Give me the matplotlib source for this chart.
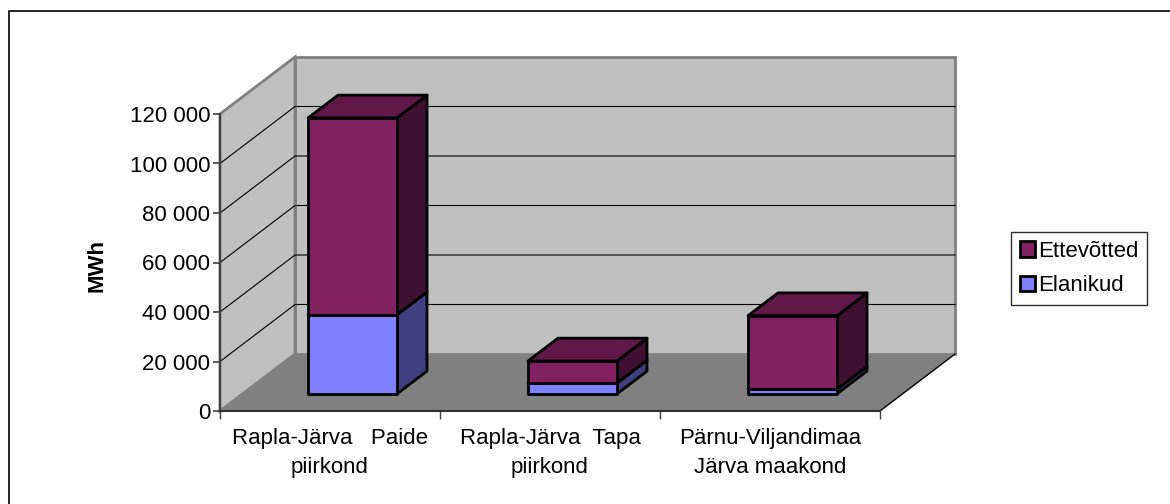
import matplotlib
matplotlib.use('Agg')
from matplotlib import pyplot as plt
from matplotlib.lines import Line2D
from matplotlib.patches import Patch

plt.rcParams['font.family'] = ['Liberation Sans', 'DejaVu Sans']

categories = ['Rapla-Järva   Paide\npiirkond', 'Rapla-Järva  Tapa\npiirkond', 'Pärnu-Viljandimaa\nJärva maakond']
elanikud = [32000, 4400, 1900]
ettevotted = [79500, 8900, 29700]
y_ticks = [0, 20000, 40000, 60000, 80000, 100000, 120000]
y_labels = ['0', '20 000', '40 000', '60 000', '80 000', '100 000', '120 000']

W, H = 1170, 504
# 3d look: depth of the box in data units
DEPTH_X = 75 / 220
DEPTH_Y = 57 / 297 * 120000
BAR_W = 89 / 220
BAR_FRONT = 0.3
BAR_DEPTH = 0.4

fig = plt.figure(figsize=(W / 100, H / 100), dpi=100, facecolor='white')
ax = fig.add_axes([220 / W, (H - 411) / H, 660 / W, 297 / H])
ax.set_xlim(0, 3)
ax.set_ylim(0, 120000)
ax.patch.set_visible(False)

# outer frame: only top and left edges are inside the picture
fig.add_artist(Line2D([8.5 / W, 8.5 / W, 1], [0, (H - 10.5) / H, (H - 10.5) / H], transform=fig.transFigure,
                      color='black', linewidth=1.2))

# walls and floor
ax.fill([DEPTH_X, 3 + DEPTH_X, 3 + DEPTH_X, DEPTH_X],
        [DEPTH_Y, DEPTH_Y, 120000 + DEPTH_Y, 120000 + DEPTH_Y],
        facecolor='#C0C0C0', edgecolor='#808080', linewidth=2, clip_on=False, zorder=1)
ax.fill([0, DEPTH_X, DEPTH_X, 0], [0, DEPTH_Y, 120000 + DEPTH_Y, 120000],
        facecolor='#C0C0C0', edgecolor='#808080', linewidth=2, clip_on=False, zorder=1)
ax.fill([0, 3, 3 + DEPTH_X, DEPTH_X], [0, 0, DEPTH_Y, DEPTH_Y],
        facecolor='#808080', edgecolor='none', clip_on=False, zorder=2)
ax.plot([3, 3 + DEPTH_X], [0, DEPTH_Y], color='black', linewidth=1, clip_on=False, zorder=2)

# gridlines on both walls
for t in y_ticks[1:-1]:
    ax.plot([0, DEPTH_X, 3 + DEPTH_X], [t, t + DEPTH_Y, t + DEPTH_Y], color='black', linewidth=0.8,
            clip_on=False, zorder=3)


def box(i, low, high, front, side, top):
    x0 = i + 0.5 - BAR_W / 2 + DEPTH_X * BAR_FRONT
    x1 = x0 + BAR_W
    base = DEPTH_Y * BAR_FRONT
    dx = DEPTH_X * BAR_DEPTH
    dy = DEPTH_Y * BAR_DEPTH
    style = dict(edgecolor='black', linewidth=2, joinstyle='round', clip_on=False, zorder=5)
    ax.fill([x1, x1 + dx, x1 + dx, x1], [base + low, base + low + dy, base + high + dy, base + high],
            facecolor=side, **style)
    ax.fill([x0, x1, x1 + dx, x0 + dx], [base + high, base + high, base + high + dy, base + high + dy],
            facecolor=top, **style)
    ax.fill([x0, x1, x1, x0], [base + low, base + low, base + high, base + high],
            facecolor=front, **style)


for i in range(len(categories)):
    box(i, 0, elanikud[i], '#8080FF', '#404080', '#606098')
    box(i, elanikud[i], elanikud[i] + ettevotted[i], '#802060', '#401030', '#601848')

# axes
for s in ['top', 'right']:
    ax.spines[s].set_visible(False)
ax.spines['left'].set_color('#404040')
ax.spines['left'].set_linewidth(1.5)
ax.spines['bottom'].set_color('#303030')
ax.spines['bottom'].set_linewidth(1.5)
ax.spines['left'].set_zorder(6)
ax.spines['bottom'].set_zorder(6)
ax.set_yticks(y_ticks)
ax.set_yticklabels(y_labels, fontsize=16)
ax.tick_params(axis='y', length=5, width=1.2, color='#404040', pad=2)
ax.set_xticks([0, 1, 2, 3])
ax.set_xticklabels([])
ax.tick_params(axis='x', which='major', length=5.5, width=1, color='#404040')
ax.set_xticks([0.5, 1.5, 2.5], minor=True)
ax.set_xticklabels(categories, minor=True, fontsize=16, linespacing=1.5)
ax.tick_params(axis='x', which='minor', length=0, pad=12)

fig.text(97 / W, (H - 266) / H, 'MWh', rotation=90, fontsize=16, fontweight='bold', ha='center', va='center')

leg = fig.legend(handles=[Patch(facecolor='#802060', edgecolor='black', linewidth=2, label='Ettevõtted'),
                          Patch(facecolor='#8080FF', edgecolor='black', linewidth=2, label='Elanikud')],
                 loc='center', bbox_to_anchor=(1079 / W, (H - 268.5) / H), fontsize=16, frameon=True,
                 fancybox=False, framealpha=1, edgecolor='#303030', handlelength=0.7, handleheight=0.7,
                 handletextpad=0.12, labelspacing=0.6, borderpad=0.38, borderaxespad=0)
leg.get_frame().set_linewidth(1)

fig.savefig('out.png', dpi=100)
